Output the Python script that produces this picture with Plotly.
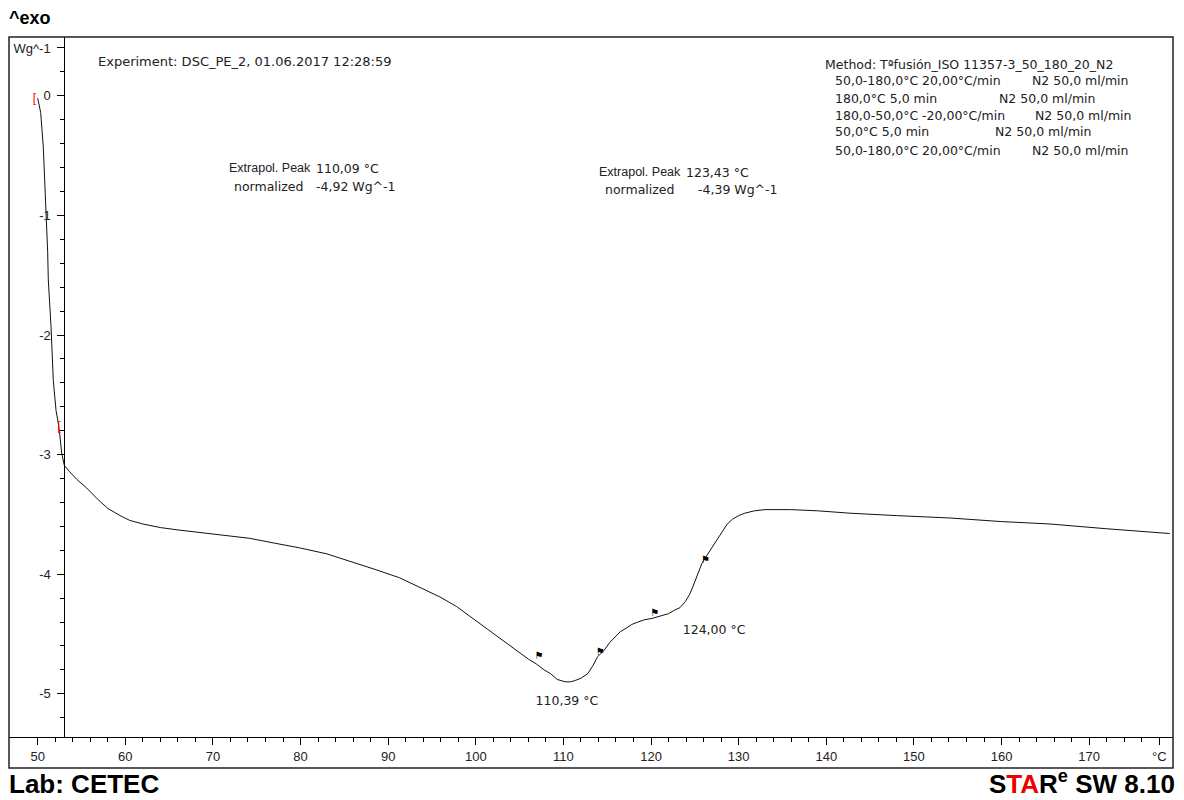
import plotly.graph_objects as go

# ---------------- data ----------------
temp_c = [50.0, 50.34, 50.64, 50.83, 51.03, 51.14, 51.21, 51.52, 51.78, 52.09, 52.43, 52.74,
          53.04, 53.6, 54.5, 55.6, 56.8, 58.0, 59.4, 60.5, 62.0, 64.0, 66.0, 68.5, 71.0, 74.2,
          77.0, 79.9, 83.0, 85.6, 88.5, 91.3, 94.0, 95.9, 97.8, 99.3, 101.0, 102.7, 104.0,
          105.0, 106.0, 106.9, 107.8, 108.5, 109.3, 110.2, 110.8, 111.3, 112.0, 112.8, 113.4,
          113.9, 114.6, 115.3, 116.0, 116.5, 117.2, 117.8, 118.5, 119.3, 120.1, 121.0, 122.0,
          122.7, 123.3, 123.9, 124.4, 124.8, 125.3, 125.8, 126.4, 127.0, 127.6, 128.1, 128.7,
          129.3, 130.0, 130.7, 131.8, 133.0, 134.5, 135.9, 139.0, 142.7, 148.0, 154.1, 160.0,
          165.5, 172.0, 176.0, 179.2]
heat_flow = [-0.02, -0.14, -0.43, -0.76, -0.98, -1.31, -1.54, -1.93, -2.38, -2.63, -2.77, -2.99,
             -3.09, -3.14, -3.21, -3.28, -3.37, -3.45, -3.51, -3.55, -3.58, -3.61, -3.63, -3.65,
             -3.67, -3.70, -3.74, -3.78, -3.83, -3.89, -3.96, -4.03, -4.12, -4.19, -4.27, -4.35,
             -4.44, -4.53, -4.60, -4.66, -4.71, -4.75, -4.80, -4.83, -4.88, -4.90, -4.90, -4.89,
             -4.87, -4.83, -4.76, -4.69, -4.64, -4.57, -4.52, -4.48, -4.45, -4.42, -4.40, -4.38,
             -4.37, -4.35, -4.33, -4.30, -4.28, -4.23, -4.17, -4.10, -4.01, -3.91, -3.84, -3.77,
             -3.71, -3.64, -3.58, -3.54, -3.51, -3.49, -3.47, -3.46, -3.46, -3.46, -3.47, -3.49,
             -3.51, -3.53, -3.56, -3.58, -3.62, -3.64, -3.66]

flag_x = [106.7, 113.7, 119.9, 125.7]
flag_y = [-4.73, -4.70, -4.37, -3.93]

limit_x = [49.62, 52.43]
limit_y = [-0.03, -2.77]

x_major = [50, 60, 70, 80, 90, 100, 110, 120, 130, 140, 150, 160, 170, 178]
x_labels = ["50", "60", "70", "80", "90", "100", "110", "120", "130", "140", "150", "160", "170", "°C"]
y_major = [-5, -4, -3, -2, -1, 0, 0.4]
y_labels = ["-5", "-4", "-3", "-2", "-1", "0", "Wg^-1"]

peak_labels = ["110,39 °C", "124,00 °C"]
peak_label_x = [110.4, 127.2]
peak_label_y = [-5.07, -4.475]

method_left = ["Method: Tªfusión_ISO 11357-3_50_180_20_N2",
               "50,0-180,0°C 20,00°C/min", "180,0°C 5,0 min", "180,0-50,0°C -20,00°C/min",
               "50,0°C 5,0 min", "50,0-180,0°C 20,00°C/min"]
method_right = ["", "N2 50,0 ml/min", "N2 50,0 ml/min", "N2 50,0 ml/min",
                "N2 50,0 ml/min", "N2 50,0 ml/min"]

# ---------------- layout helpers ----------------
W, H = 1184, 800
L, R, T, B = 9, 1173, 37, 737


def px(x):
    return (x - L) / (R - L)


def py(y):
    return (B - y) / (B - T)


SANS = "Liberation Sans, Arial, sans-serif"
WIDE = "DejaVu Sans, Verdana, sans-serif"
fs = 13

fig = go.Figure()
fig.add_trace(go.Scatter(x=temp_c, y=heat_flow, mode="lines",
                         line=dict(color="#111111", width=1), hoverinfo="skip", showlegend=False))
fig.add_trace(go.Scatter(x=flag_x, y=flag_y, mode="text", text=["⚑"] * len(flag_x),
                         textposition="top right", textfont=dict(size=10, color="black", family="DejaVu Sans"),
                         hoverinfo="skip", showlegend=False))
fig.add_trace(go.Scatter(x=limit_x, y=limit_y, mode="text", text=["["] * len(limit_x),
                         textposition="middle center", textfont=dict(size=12, color="#ff0000", family=SANS),
                         hoverinfo="skip", showlegend=False))
fig.add_trace(go.Scatter(x=peak_label_x, y=peak_label_y, mode="text", text=peak_labels,
                         textposition="middle center", textfont=dict(size=12.5, color="#222", family=WIDE),
                         hoverinfo="skip", showlegend=False))

x_minor = [v for v in range(52, 178, 2) if v % 10 != 0]
y_minor = [round(-5.2 + 0.2 * i, 1) for i in range(29)]
y_minor = [v for v in y_minor if abs(v - round(v)) > 1e-6 and abs(v - 0.4) > 1e-6]

x0 = 50 + (L - 37.7) / 8.762
x1 = 50 + (R - 37.7) / 8.762
y_top = (95.8 - T) / 119.6
y_bot = -(B - 95.8) / 119.6

fig.update_layout(
    width=W, height=H,
    margin=dict(l=L, r=W - R, t=T, b=H - B),
    paper_bgcolor="white", plot_bgcolor="white",
    font=dict(family=SANS, size=fs, color="#222"),
    xaxis=dict(range=[x0, x1], showgrid=False, zeroline=False, showline=True,
               linecolor="black", linewidth=1, ticks="outside", ticklen=7, tickcolor="black",
               tickvals=x_major, ticktext=x_labels, tickfont=dict(size=fs, color="#222", family=SANS),
               minor=dict(tickmode="array", tickvals=x_minor, ticks="outside", ticklen=4,
                          tickcolor="black", showgrid=False)),
    yaxis=dict(range=[y_bot, y_top], showgrid=False, zeroline=False, showline=True,
               linecolor="black", linewidth=1, anchor="free", position=px(64.3),
               ticks="outside", ticklen=7, tickcolor="black", ticklabelstandoff=4,
               tickvals=y_major, ticktext=y_labels, tickfont=dict(size=13, color="#222", family=SANS),
               minor=dict(tickmode="array", tickvals=y_minor, ticks="outside", ticklen=4,
                          tickcolor="black", showgrid=False)),
    showlegend=False,
)

# frame around the whole chart
fig.add_shape(type="rect", xref="paper", yref="paper", x0=0, x1=1, y0=py(768), y1=1,
              line=dict(color="#222", width=1.5), layer="above")


def txt(x, y, s, size=13, anchor="left", bold=False, color="#222", family=WIDE, yanchor="middle"):
    fig.add_annotation(xref="paper", yref="paper", x=px(x), y=py(y), text=s, showarrow=False,
                       xanchor=anchor, yanchor=yanchor, borderpad=0,
                       font=dict(size=size, color=color, family=family,
                                 weight="bold" if bold else "normal"))


txt(97, 62, "Experiment: DSC_PE_2, 01.06.2017 12:28:59")

txt(228, 168, "Extrapol. Peak", size=12.5, family=SANS)
txt(315, 168, "110,09 °C", size=12.5)
txt(233, 186, "normalized", size=12.5)
txt(315, 186, "-4,92 Wg^-1", size=12.5)

txt(598, 172, "Extrapol. Peak", size=12.5, family=SANS)
txt(685, 172, "123,43 °C", size=12.5)
txt(604, 190, "normalized", size=12.5)
txt(697, 190, "-4,39 Wg^-1", size=12.5)

m_y = [64, 81, 98, 115, 132, 150]
m_lx = [824, 834, 834, 834, 834, 834]
m_rx = [0, 1031, 998, 1034, 994, 1031]
for i in range(len(method_left)):
    txt(m_lx[i], m_y[i], method_left[i], size=12.5)
    if method_right[i]:
        txt(m_rx[i], m_y[i], method_right[i], size=12.5)

txt(8, 18, "^exo", size=18, bold=True, color="black", family=SANS)
txt(8, 800, "Lab: CETEC", size=26, bold=True, color="black", family=SANS, yanchor="bottom")
txt(1176, 800, "S<span style='color:#ee0000'>TA</span>R<sup>e</sup> SW 8.10", size=26,
    anchor="right", bold=True, color="black", family=SANS, yanchor="bottom")

fig.write_html("out.html")
